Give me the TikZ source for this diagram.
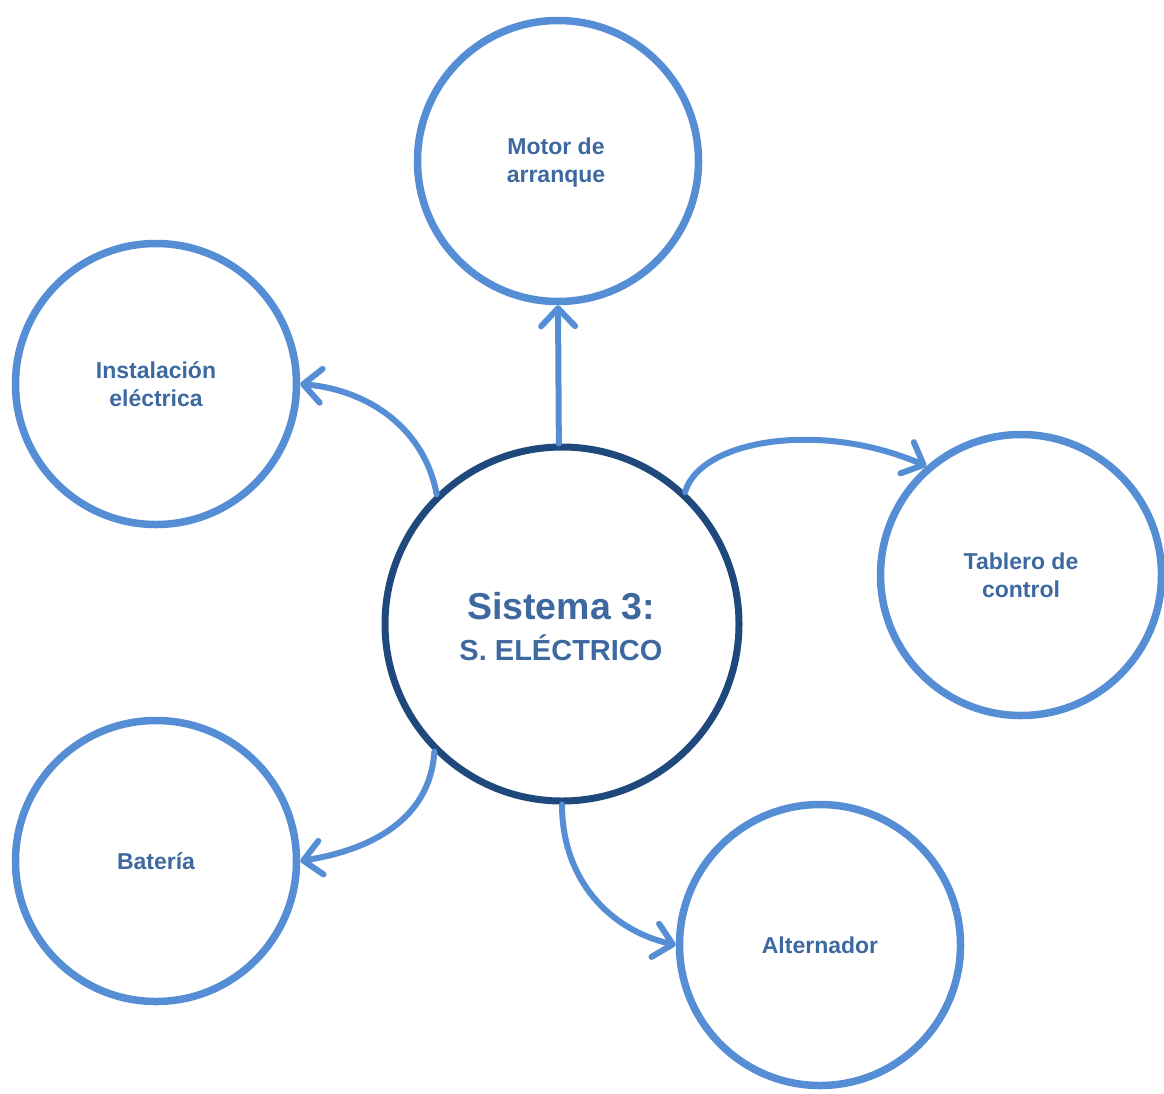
\documentclass[tikz,border=0pt]{standalone}
\usepackage{fontspec}
\setmainfont{Liberation Sans}
\usetikzlibrary{arrows.meta}
\definecolor{ringblue}{HTML}{558ED5}
\definecolor{hubblue}{HTML}{1F497D}
\definecolor{labelblue}{HTML}{3D69A0}
\begin{document}
\begin{tikzpicture}[x=1pt,y=-1pt,
  part/.style={circle, draw=ringblue, line width=7.5pt, minimum size=281pt, inner sep=0pt,
    text=labelblue, font=\fontsize{23}{28}\selectfont\bfseries, align=center},
  hub/.style={circle, draw=hubblue, line width=7pt, minimum size=354pt, inner sep=0pt,
    text=labelblue, align=center},
  link/.style={draw=ringblue, line width=6pt, line cap=round, line join=round,
    -{Straight Barb[length=18pt, width=34pt, line cap=round, line join=round]}}
]
\useasboundingbox (0,0) rectangle (1164,1093);

\node[hub] (hub) at (562,624) {};
\node[text=labelblue, font=\fontsize{37.5}{40}\selectfont\bfseries] (title) at (561,606) {Sistema 3:};
\node[text=labelblue, font=\fontsize{29}{32}\selectfont\bfseries] (subtitle) at (561,648) {S. ELÉCTRICO};

\node[part] (motor) at (558,161) {};
\node[text=labelblue, font=\fontsize{23}{28}\selectfont\bfseries, align=center] (motortext) at (556,163) {Motor de\\arranque};
\node[part] (inst) at (156,384) {Instalación\\eléctrica};
\node[part] (tab) at (1021,575) {Tablero de\\control};
\node[part] (bat) at (156,861) {Batería};
\node[part] (alt) at (820,945) {Alternador};

\draw[link] (hub.91) -- (motor.south);
\draw[link] (hub.134) .. controls (425,430) and (370,390) .. (inst.east);
\draw[link] (hub.47) .. controls (700,440) and (820,420) .. (tab.131);
\draw[link] (hub.225) .. controls (430,820) and (370,850) .. (bat.east);
\draw[link] (hub.270) .. controls (562,880) and (610,930) .. (alt.west);
\end{tikzpicture}
\end{document}
